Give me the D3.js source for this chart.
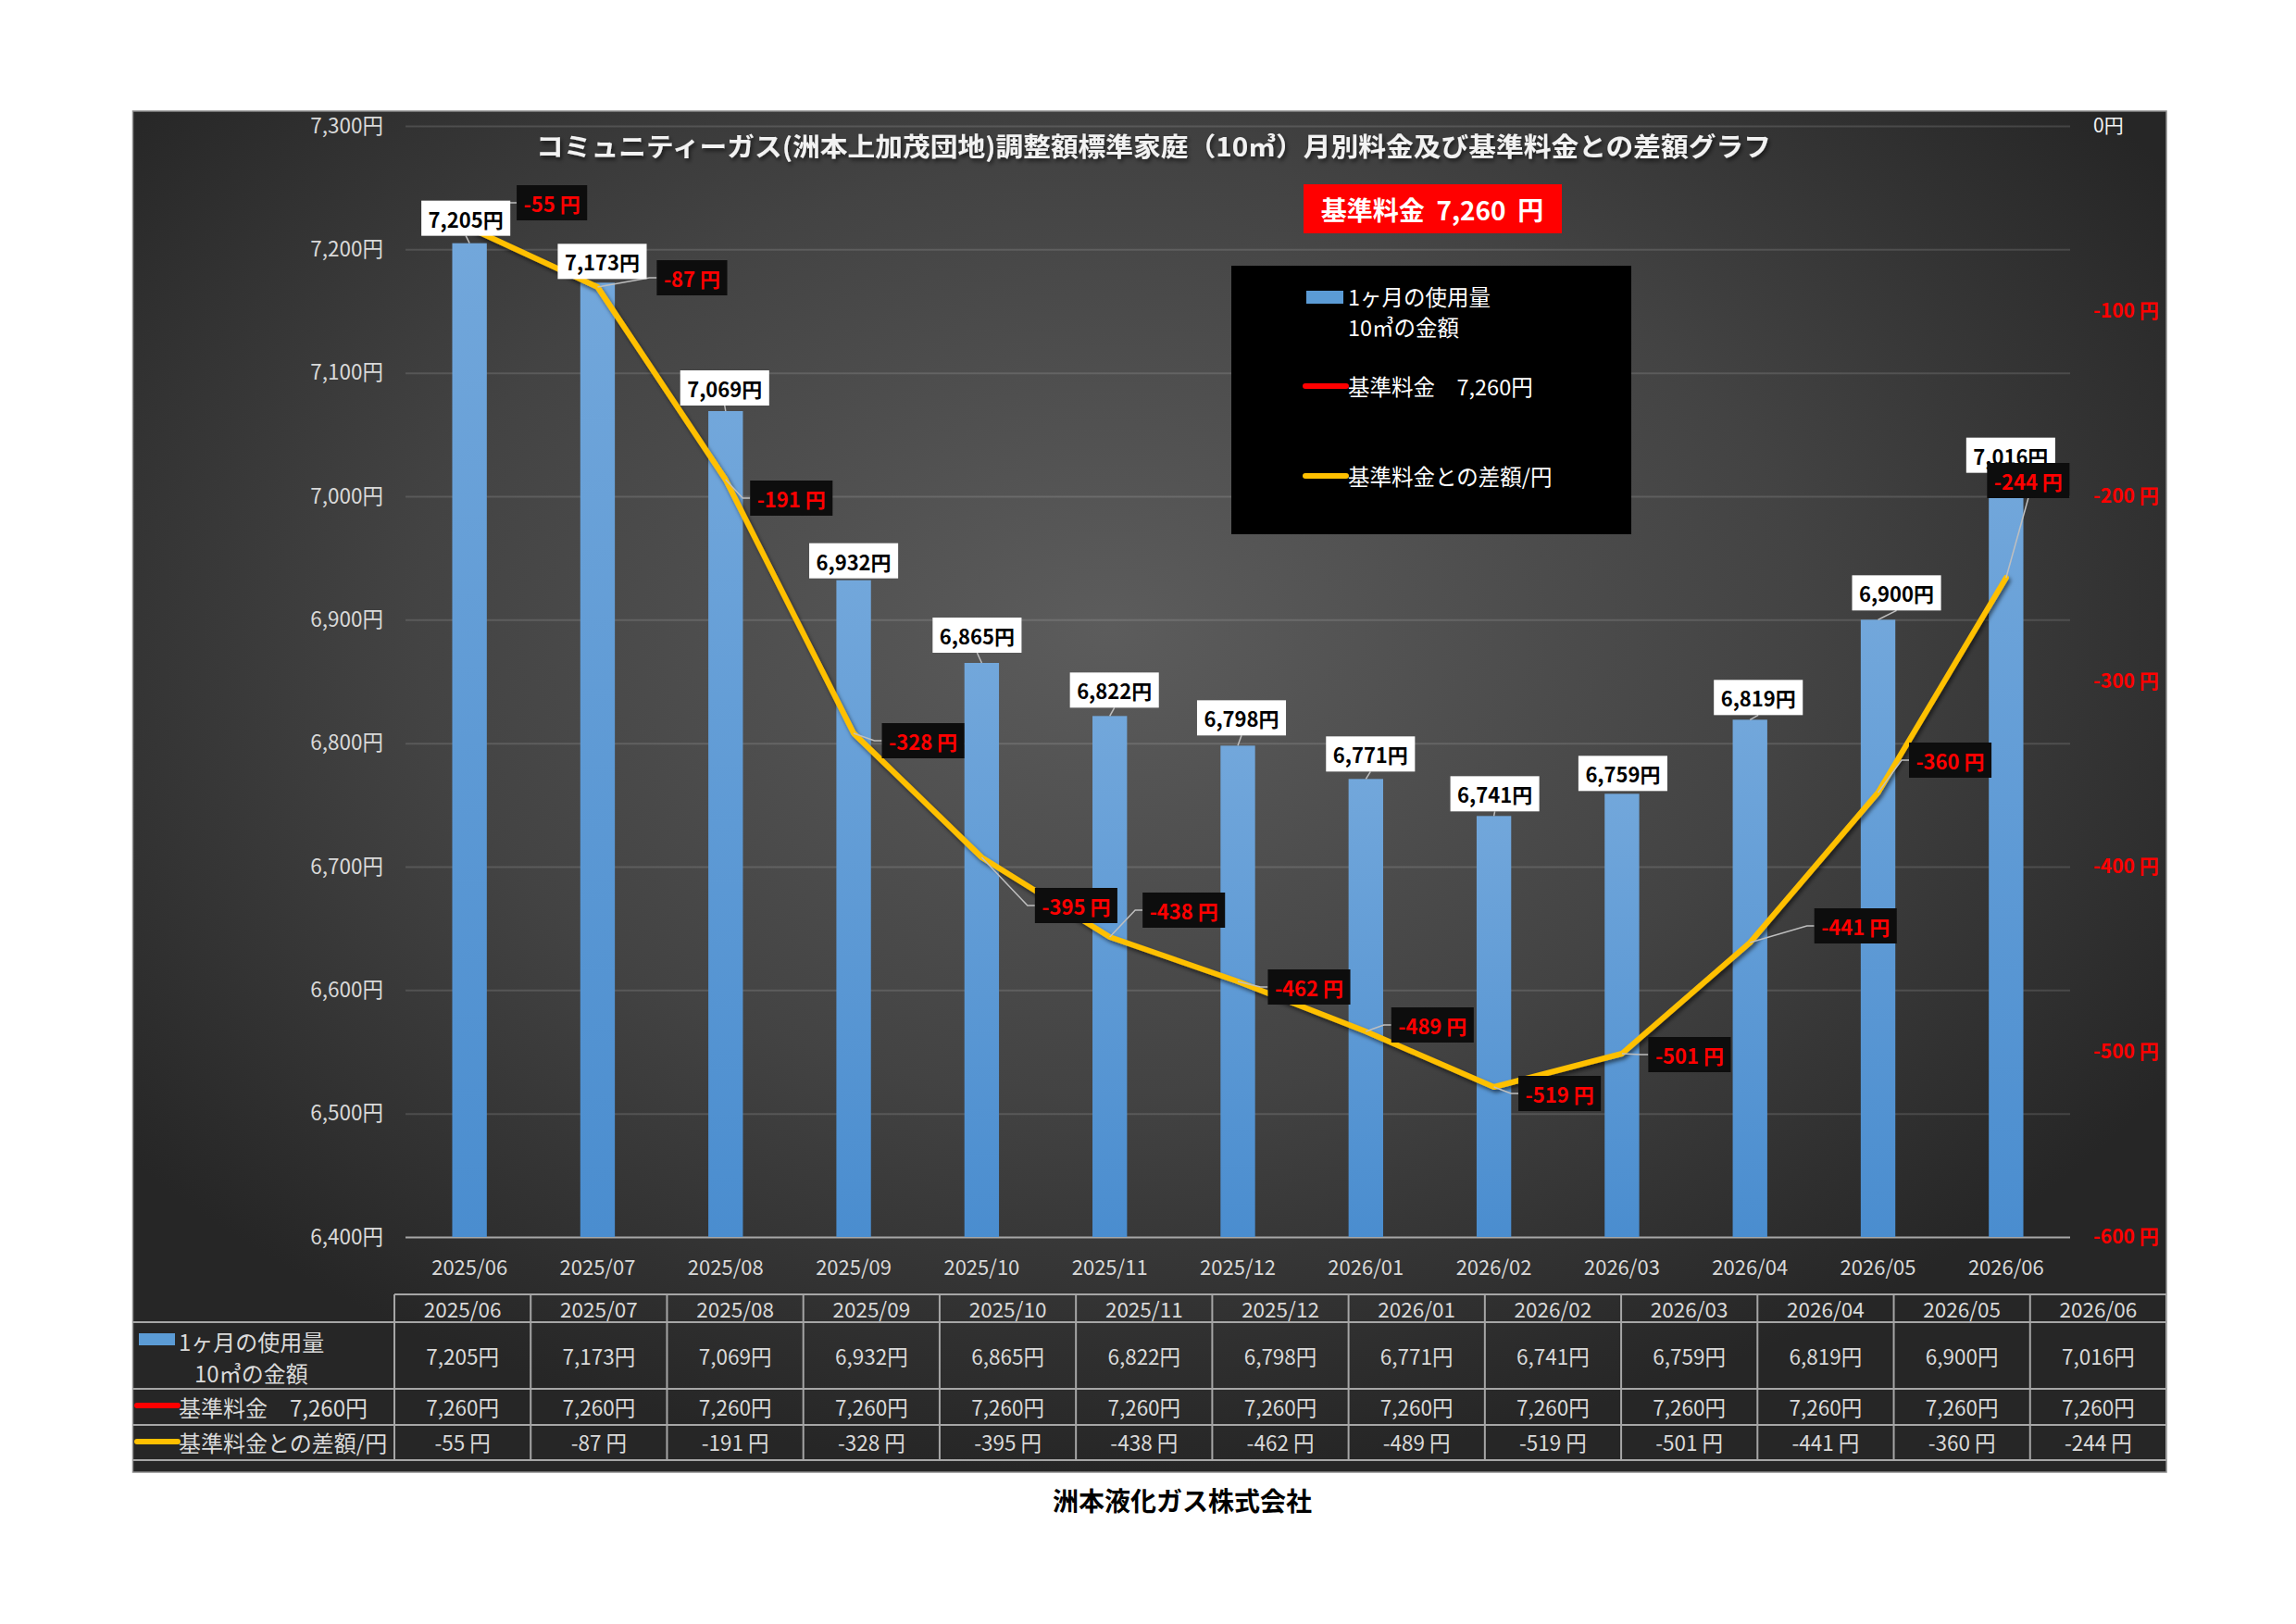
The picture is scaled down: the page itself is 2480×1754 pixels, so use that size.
<!DOCTYPE html>
<html><head><meta charset="utf-8">
<script src="https://cdn.jsdelivr.net/npm/d3@7"></script>
<style>
html,body{margin:0;padding:0;background:#fff;}
svg{display:block;}
text{font-family:"Noto Sans CJK JP","Noto Sans",sans-serif;}
</style></head><body>
<svg id="c" width="2480" height="1754"></svg>
<script>
// ---- data ----
const months = ["2025/06","2025/07","2025/08","2025/09","2025/10","2025/11","2025/12","2026/01","2026/02","2026/03","2026/04","2026/05","2026/06"];
const monthlyCharge = [7205,7173,7069,6932,6865,6822,6798,6771,6741,6759,6819,6900,7016];
const baseCharge = [7260,7260,7260,7260,7260,7260,7260,7260,7260,7260,7260,7260,7260];
const diffFromBase = [-55,-87,-191,-328,-395,-438,-462,-489,-519,-501,-441,-360,-244];
const leftTicks = [6400,6500,6600,6700,6800,6900,7000,7100,7200,7300];
const rightTicks = [-600,-500,-400,-300,-200,-100,0];
const titleText = "コミュニティーガス(洲本上加茂団地)調整額標準家庭（10㎥）月別料金及び基準料金との差額グラフ";
const baseBoxText = "基準料金  7,260  円";
const seriesNames = ["1ヶ月の使用量", "10㎥の金額", "基準料金　7,260円", "基準料金との差額/円"];
const companyName = "洲本液化ガス株式会社";

// ---- layout (label offsets in px, relative to anchor) ----
const barLabelOffsets = [[-4,-27],[5,-23],[-1,-25],[0,-21],[-5,-30],[5,-28],[4,-30],[5,-27],[1,-24],[1,-22],[9,-24],[20,-29],[5,-23]];
const diffLabelOffsets = [[89,-27],[102,-10],[71,20],[75,8],[102,52],[80,-29],[77,6],[72,-7],[71,7],[73,1],[114,-18],[78,-35],[24,-105]];

const L = {chartX:143.5, chartY:120, chartR:2340, chartB:1590,
  plotL:438, plotR:2236, plotT:136, plotB:1336,
  tblL:426, tblTop:1398, rows:[1428,1500,1539,1577]};

const svg = d3.select("#c");
const defs = svg.append("defs");
const rg = defs.append("radialGradient").attr("id","bg").attr("cx","48%").attr("cy","38%").attr("r","62%");
rg.append("stop").attr("offset","0%").attr("stop-color","#5c5c5c");
rg.append("stop").attr("offset","55%").attr("stop-color","#434343");
rg.append("stop").attr("offset","100%").attr("stop-color","#262626");
const bg2 = defs.append("linearGradient").attr("id","barG").attr("x1",0).attr("x2",0).attr("y1",0).attr("y2",1);
bg2.append("stop").attr("offset","0%").attr("stop-color","#72a7db");
bg2.append("stop").attr("offset","100%").attr("stop-color","#4a8dcf");
const sh = defs.append("filter").attr("id","sh").attr("x","-5%").attr("y","-50%").attr("width","110%").attr("height","200%");
sh.append("feDropShadow").attr("dx",2).attr("dy",3).attr("stdDeviation",2).attr("flood-color","#000").attr("flood-opacity",0.55);

// chart background
svg.append("rect").attr("x",L.chartX).attr("y",L.chartY)
  .attr("width",L.chartR-L.chartX).attr("height",L.chartB-L.chartY)
  .attr("fill","url(#bg)").attr("stroke","#8c8c8c").attr("stroke-width",1.5);

// scales
const x = d3.scaleBand().domain(months).range([L.plotL,L.plotR]).paddingInner(0.73).paddingOuter(0.365);
const cx = m => x(m) + x.bandwidth()/2;
const yL = d3.scaleLinear().domain([6400,7300]).range([L.plotB,L.plotT]);
const yR = d3.scaleLinear().domain([-600,0]).range([L.plotB,L.plotT]);

// gridlines
const grid = svg.append("g").attr("transform",`translate(${L.plotL},0)`)
  .call(d3.axisLeft(yL).tickValues(leftTicks).tickSize(-(L.plotR-L.plotL)).tickFormat(""));
grid.select(".domain").remove();
grid.selectAll(".tick line").attr("stroke",d=>d===6400?"#a6a6a6":"rgba(255,255,255,0.13)").attr("stroke-width",2);

// left axis
const ax = svg.append("g").attr("transform",`translate(414,0)`)
  .call(d3.axisLeft(yL).tickValues(leftTicks).tickSize(0).tickPadding(0).tickFormat(d=>d3.format(",")(d)+"円"));
ax.select(".domain").remove();
ax.selectAll("text").attr("font-size",22.5).attr("fill","#d9d9d9").style("font-family",'"Noto Sans CJK JP"');

// right axis
const axr = svg.append("g").attr("transform",`translate(2261,0)`)
  .call(d3.axisRight(yR).tickValues(rightTicks).tickSize(0).tickPadding(0).tickFormat(d=>d===0?"0円":d+" 円"));
axr.select(".domain").remove();
axr.selectAll("text").attr("font-size",21).attr("font-weight",d=>d===0?400:700)
  .attr("fill",d=>d===0?"#f2f2f2":"#ff0000").style("font-family",'"Noto Sans CJK JP"');

// x labels
svg.append("g").selectAll("text").data(months).join("text")
  .attr("x",d=>cx(d)).attr("y",1367).attr("text-anchor","middle").attr("dominant-baseline","central")
  .attr("font-size",22).attr("fill","#d9d9d9").text(d=>d);

// bars
svg.append("g").selectAll("rect").data(monthlyCharge).join("rect")
  .attr("x",(d,i)=>x(months[i])).attr("y",d=>yL(d))
  .attr("width",x.bandwidth()).attr("height",d=>L.plotB-yL(d))
  .attr("fill","url(#barG)");

// title
svg.append("text").attr("x",1246).attr("y",157).attr("text-anchor","middle").attr("dominant-baseline","central")
  .attr("font-size",28).attr("font-weight",700).attr("fill","#f2f2f2").attr("filter","url(#sh)")
  .attr("textLength",1334).attr("lengthAdjust","spacingAndGlyphs").text(titleText);

// base line (red)
svg.append("path").datum(baseCharge)
  .attr("d",d3.line().x((d,i)=>cx(months[i])).y(d=>yL(d)))
  .attr("fill","none").attr("stroke","#ff0000").attr("stroke-width",6).attr("stroke-linecap","round").attr("filter","url(#sh)");

// red base box
svg.append("rect").attr("x",1408).attr("y",199).attr("width",279).attr("height",53).attr("fill","#ff0000");
svg.append("text").attr("x",1547).attr("y",226).attr("text-anchor","middle").attr("dominant-baseline","central")
  .attr("font-size",28).attr("font-weight",700).attr("fill","#fff").style("white-space","pre").text(baseBoxText);

// legend
const LF = 23.5;
const lg = svg.append("g");
lg.append("rect").attr("x",1330).attr("y",287).attr("width",432).attr("height",290).attr("fill","#000");
lg.append("rect").attr("x",1411).attr("y",314).attr("width",40).attr("height",14).attr("fill","#5b9bd5");
lg.append("text").attr("x",1456).attr("y",320).attr("dominant-baseline","central").attr("font-size",LF).attr("fill","#fff").text(seriesNames[0]);
lg.append("text").attr("x",1456).attr("y",353).attr("dominant-baseline","central").attr("font-size",LF).attr("fill","#fff").text(seriesNames[1]);
lg.append("line").attr("x1",1410).attr("x2",1454).attr("y1",417).attr("y2",417).attr("stroke","#ff0000").attr("stroke-width",6).attr("stroke-linecap","round");
lg.append("text").attr("x",1456).attr("y",417).attr("dominant-baseline","central").attr("font-size",LF).attr("fill","#fff").text(seriesNames[2]);
lg.append("line").attr("x1",1410).attr("x2",1454).attr("y1",514).attr("y2",514).attr("stroke","#ffc000").attr("stroke-width",6).attr("stroke-linecap","round");
lg.append("text").attr("x",1456).attr("y",514).attr("dominant-baseline","central").attr("font-size",LF).attr("fill","#fff").text(seriesNames[3]);

// diff line (yellow)
svg.append("path").datum(diffFromBase)
  .attr("d",d3.line().x((d,i)=>cx(months[i])).y(d=>yR(d)))
  .attr("fill","none").attr("stroke","#ffc000").attr("stroke-width",6).attr("stroke-linejoin","round").attr("stroke-linecap","round").attr("filter","url(#sh)");

// labels
const leaderG = svg.append("g");
const barLblG = svg.append("g");
const diffLblG = svg.append("g");
const BH = 38;
function makeLabel(g, px, py, off, txt, fill, color, kind){
  const lx = px + off[0], ly = py + off[1];
  const grp = g.append("g");
  const r = grp.append("rect");
  const t = grp.append("text").attr("x",lx).attr("y",ly).attr("text-anchor","middle").attr("dominant-baseline","central")
    .attr("font-size",22).attr("font-weight",700).attr("fill",color).text(txt);
  const w = t.node().getComputedTextLength() + 15;
  const bx = lx - w/2, by = ly - BH/2;
  r.attr("x",bx).attr("y",by).attr("width",w).attr("height",BH).attr("fill",fill);
  let p = null;
  if (kind==="bar") {
    if (py - (by+BH) > 4) p = `M${px},${py}L${lx},${by+BH}`;
  } else {
    if (px < bx) p = `M${px},${py}L${bx-8},${ly}L${bx},${ly}`;
    else if (py > by+BH) p = `M${px},${py}L${lx},${by+BH}`;
  }
  if (p) leaderG.append("path").attr("d",p).attr("fill","none").attr("stroke","#bfbfbf").attr("stroke-width",1.5);
}
monthlyCharge.forEach((v,i)=>makeLabel(barLblG, cx(months[i]), yL(v), barLabelOffsets[i], d3.format(",")(v)+"円", "#fff", "#000", "bar"));
diffFromBase.forEach((v,i)=>makeLabel(diffLblG, cx(months[i]), yR(v), diffLabelOffsets[i], v+" 円", "#0d0d0d", "#ff0000", "diff"));

// data table
const tx = d3.scaleBand().domain(months).range([L.tblL,L.chartR]);
const tcx = m => tx(m) + tx.bandwidth()/2;
const tg = svg.append("g");
const lineCol = "#a6a6a6";
tg.append("line").attr("x1",L.tblL).attr("x2",L.chartR).attr("y1",L.tblTop).attr("y2",L.tblTop).attr("stroke",lineCol).attr("stroke-width",2);
L.rows.forEach(y=>tg.append("line").attr("x1",L.chartX).attr("x2",L.chartR).attr("y1",y).attr("y2",y).attr("stroke",lineCol).attr("stroke-width",2));
months.forEach(m=>tg.append("line").attr("x1",tx(m)).attr("x2",tx(m)).attr("y1",L.tblTop).attr("y2",L.rows[3]).attr("stroke",lineCol).attr("stroke-width",2));
tg.append("line").attr("x1",L.chartR).attr("x2",L.chartR).attr("y1",L.tblTop).attr("y2",L.rows[3]).attr("stroke",lineCol).attr("stroke-width",2);

const rowY = [1413, 1464, 1519, 1557];
const rowsData = [
  months,
  monthlyCharge.map(v=>d3.format(",")(v)+"円"),
  baseCharge.map(v=>d3.format(",")(v)+"円"),
  diffFromBase.map(v=>v+" 円")
];
rowsData.forEach((row,ri)=>{
  tg.append("g").selectAll("text").data(row).join("text")
    .attr("x",(d,i)=>tcx(months[i])).attr("y",rowY[ri]).attr("text-anchor","middle").attr("dominant-baseline","central")
    .attr("font-size",22.5).attr("fill","#d9d9d9").text(d=>d);
});
// row headers
const RF = 24;
tg.append("rect").attr("x",150).attr("y",1440).attr("width",39).attr("height",13).attr("fill","#5b9bd5");
tg.append("text").attr("x",193).attr("y",1448).attr("dominant-baseline","central").attr("font-size",RF).attr("fill","#d9d9d9").text(seriesNames[0]);
tg.append("text").attr("x",210).attr("y",1482).attr("dominant-baseline","central").attr("font-size",RF).attr("fill","#d9d9d9").text(seriesNames[1]);
tg.append("line").attr("x1",148).attr("x2",192).attr("y1",1518).attr("y2",1518).attr("stroke","#ff0000").attr("stroke-width",6).attr("stroke-linecap","round");
tg.append("text").attr("x",193).attr("y",1519).attr("dominant-baseline","central").attr("font-size",RF).attr("fill","#d9d9d9").text(seriesNames[2]);
tg.append("line").attr("x1",148).attr("x2",192).attr("y1",1557).attr("y2",1557).attr("stroke","#ffc000").attr("stroke-width",6).attr("stroke-linecap","round");
tg.append("text").attr("x",193).attr("y",1557).attr("dominant-baseline","central").attr("font-size",RF).attr("fill","#d9d9d9").text(seriesNames[3]);

// company name
svg.append("text").attr("x",1277).attr("y",1620).attr("text-anchor","middle").attr("dominant-baseline","central")
  .attr("font-size",28).attr("font-weight",700).attr("fill","#000").text(companyName);
</script></body></html>
